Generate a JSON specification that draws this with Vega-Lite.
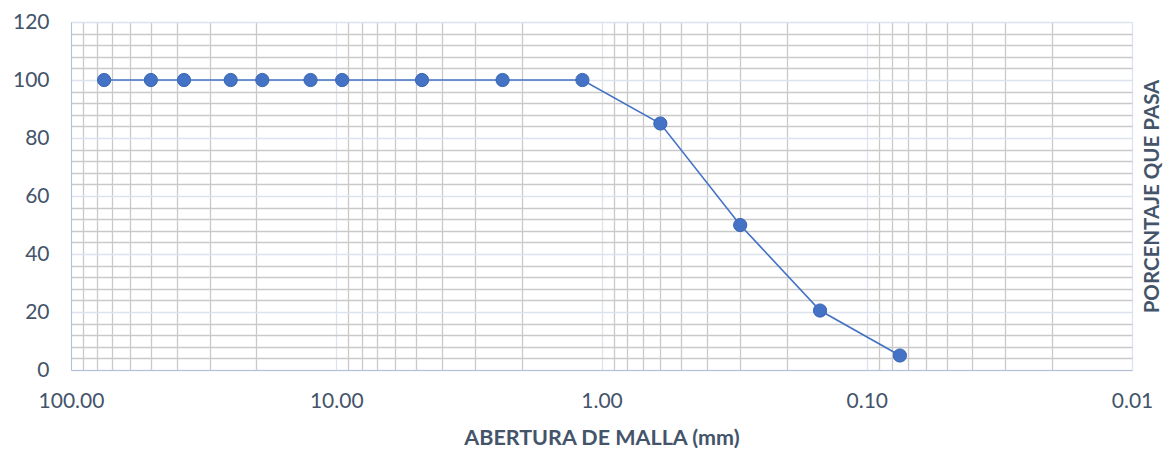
{
  "$schema": "https://vega.github.io/schema/vega-lite/v6.json",
  "width": 1061,
  "height": 348,
  "autosize": {"type": "none"},
  "padding": {"left": 71, "top": 22, "right": 31, "bottom": 80},
  "background": "white",
  "config": {
    "view": {"stroke": null},
    "font": "Lato"
  },
  "data": {
    "values": [
      {"abertura": 75, "pasa": 100},
      {"abertura": 50, "pasa": 100},
      {"abertura": 37.5, "pasa": 100},
      {"abertura": 25, "pasa": 100},
      {"abertura": 19, "pasa": 100},
      {"abertura": 12.5, "pasa": 100},
      {"abertura": 9.5, "pasa": 100},
      {"abertura": 4.75, "pasa": 100},
      {"abertura": 2.36, "pasa": 100},
      {"abertura": 1.18, "pasa": 100},
      {"abertura": 0.6, "pasa": 85},
      {"abertura": 0.3, "pasa": 50},
      {"abertura": 0.15, "pasa": 20.5},
      {"abertura": 0.075, "pasa": 5}
    ]
  },
  "encoding": {
    "x": {
      "field": "abertura",
      "type": "quantitative",
      "scale": {"type": "log", "domain": [0.01, 100], "reverse": true, "nice": false},
      "axis": {
        "title": "ABERTURA DE MALLA (mm)",
        "values": [100, 90, 80, 70, 60, 50, 40, 30, 20, 10, 9, 8, 7, 6, 5, 4, 3, 2, 1, 0.9, 0.8, 0.7, 0.6, 0.5, 0.4, 0.3, 0.2, 0.1, 0.09, 0.08, 0.07, 0.06, 0.05, 0.04, 0.03, 0.02, 0.01],
        "labelExpr": "abs(log(datum.value)/LN10 - round(log(datum.value)/LN10)) < 0.001 ? format(datum.value, '.2f') : ''",
        "labelFont": "Lato",
        "labelFontSize": 21,
        "labelColor": "#44546A",
        "labelPadding": 20,
        "labelOverlap": false,
        "labelFlush": false,
        "ticks": false,
        "domainColor": "#B4C0DA",
        "domainWidth": 1,
        "grid": true,
        "gridColor": {
          "condition": {"test": "abs(log(datum.value)/LN10 - round(log(datum.value)/LN10)) < 0.001", "value": "#DDE3EE"},
          "value": "#C9C9C9"
        },
        "gridWidth": 1.3,
        "titleFont": "Lato",
        "titleFontSize": 21.5,
        "titleFontWeight": "bold",
        "titleColor": "#44546A",
        "titleBaseline": "alphabetic",
        "titleY": 74
      }
    },
    "y": {
      "field": "pasa",
      "type": "quantitative",
      "scale": {"domain": [0, 120], "nice": false, "zero": true},
      "axis": {
        "title": "PORCENTAJE QUE PASA",
        "values": [0, 4, 8, 12, 16, 20, 24, 28, 32, 36, 40, 44, 48, 52, 56, 60, 64, 68, 72, 76, 80, 84, 88, 92, 96, 100, 104, 108, 112, 116, 120],
        "labelExpr": "datum.value % 20 == 0 ? format(datum.value, 'd') : ''",
        "labelFont": "Lato",
        "labelFontSize": 21,
        "labelColor": "#44546A",
        "labelPadding": 22,
        "ticks": false,
        "domainColor": "#B4C0DA",
        "domainWidth": 1,
        "grid": true,
        "gridColor": {
          "condition": {"test": "datum.value % 20 == 0", "value": "#DDE3EE"},
          "value": "#C9C9C9"
        },
        "gridWidth": 1.3,
        "titleFont": "Lato",
        "titleFontSize": 20.5,
        "titleFontWeight": "bold",
        "titleColor": "#44546A",
        "titleAngle": -90,
        "titleAlign": "center",
        "titleBaseline": "middle",
        "titleX": 1081,
        "titleY": 174
      }
    }
  },
  "layer": [
    {
      "mark": {"type": "line", "color": "#4472C4", "strokeWidth": 1.6}
    },
    {
      "mark": {"type": "point", "filled": true, "size": 175, "color": "#4472C4", "stroke": "#3A66B5", "strokeWidth": 1, "opacity": 1}
    }
  ]
}
